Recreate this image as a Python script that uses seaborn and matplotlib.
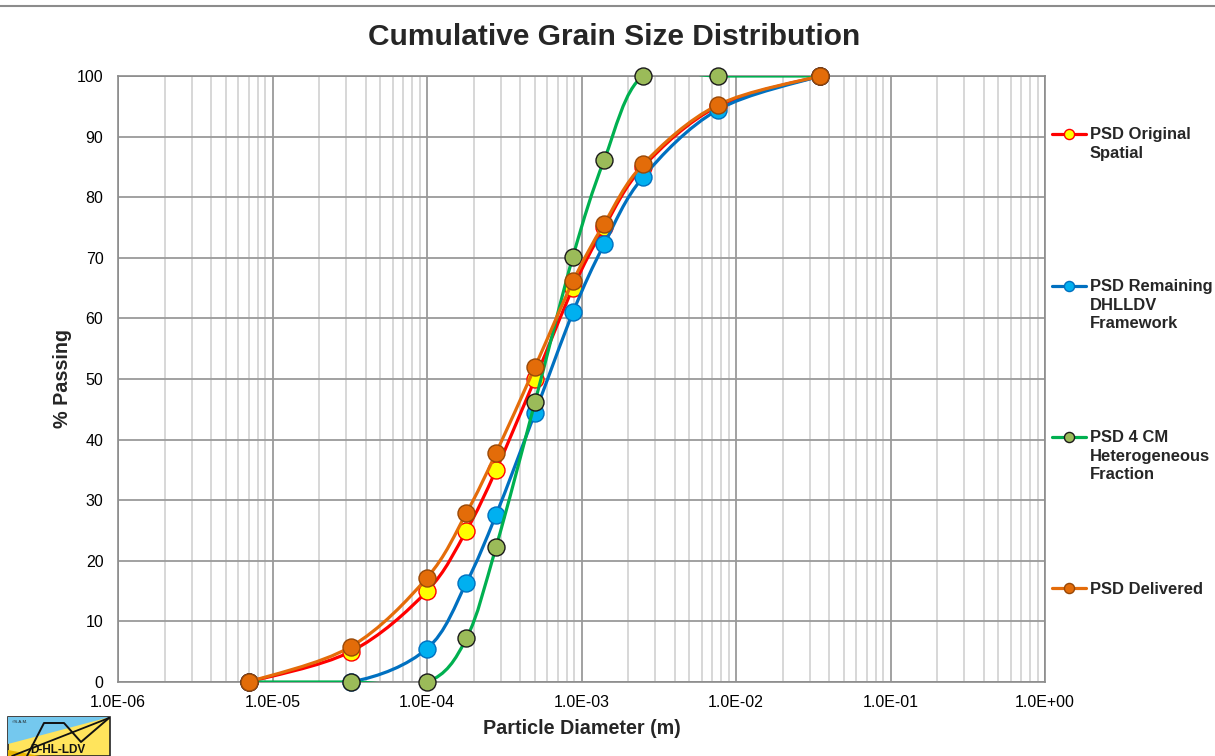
import numpy as np
import pandas as pd
import matplotlib
matplotlib.use("Agg")
import matplotlib.pyplot as plt
import seaborn as sns
from matplotlib.path import Path
from matplotlib.patches import PathPatch, Polygon
from matplotlib.lines import Line2D
from matplotlib.ticker import FixedLocator, FuncFormatter, NullFormatter

# ---------------- data ----------------
diameter_m = [7.0e-6, 3.2e-5, 1.0e-4, 1.8e-4, 2.8e-4, 5.0e-4, 8.8e-4, 1.4e-3, 2.5e-3, 7.6e-3, 3.5e-2]
psd_original = [0, 5, 15, 25, 35, 50, 65, 75, 85, 95, 100]
psd_remaining = [0, 0, 5.5, 16.4, 27.6, 44.4, 61.0, 72.2, 83.3, 94.4, 100]
psd_heterogeneous = [0, 0, 0, 7.2, 22.3, 46.2, 70.2, 86.1, 100, 100, 100]
psd_delivered = [0, 5.8, 17.2, 27.9, 37.8, 52.0, 66.1, 75.6, 85.4, 95.2, 100]
series_labels = ["PSD Original\nSpatial",
                 "PSD Remaining\nDHLLDV\nFramework",
                 "PSD 4 CM\nHeterogeneous\nFraction",
                 "PSD Delivered"]
x_tick_values = [1e-6, 1e-5, 1e-4, 1e-3, 1e-2, 1e-1, 1e0]
y_tick_values = list(range(0, 101, 10))
title_text = "Cumulative Grain Size Distribution"
x_label = "Particle Diameter (m)"
y_label = "% Passing"

# ---------------- styles ----------------
styles = [
    dict(line="#FF0000", face="#FFFF00", edge="#FF0000"),
    dict(line="#0070C0", face="#00B0F0", edge="#0070C0"),
    dict(line="#00B050", face="#9BBB59", edge="#1a1a1a"),
    dict(line="#E46C0A", face="#E36C09", edge="#984807"),
]

sns.set_style("white")
plt.rcParams["font.family"] = ["Liberation Sans", "DejaVu Sans"]

W, H = 1215, 756
fig = plt.figure(figsize=(W / 100, H / 100), dpi=100)
def fx(x): return x / W
def fy(y): return 1 - y / H

ax = fig.add_axes([fx(118), fy(682), fx(1045) - fx(118), fy(76) - fy(682)])
ax.set_xscale("log")
ax.set_xlim(1e-6, 1e0)
ax.set_ylim(0, 100)

frames = []
for lab, vals in zip(series_labels, [psd_original, psd_remaining, psd_heterogeneous, psd_delivered]):
    frames.append(pd.DataFrame({"diameter": diameter_m, "passing": vals, "series": lab}))
df = pd.concat(frames, ignore_index=True)


def smooth_path(xs, ys):
    pts = np.column_stack([np.log10(np.asarray(xs, float)), np.asarray(ys, float)])
    n = len(pts)
    verts = [pts[0]]
    codes = [Path.MOVETO]
    for i in range(n - 1):
        p0 = pts[max(i - 1, 0)]
        p1 = pts[i]
        p2 = pts[i + 1]
        p3 = pts[min(i + 2, n - 1)]
        c1 = p1 + (p2 - p0) / 6.0
        c2 = p2 - (p3 - p1) / 6.0
        verts += [c1, c2, p2]
        codes += [Path.CURVE4] * 3
    verts = np.array(verts)
    verts[:, 0] = 10 ** verts[:, 0]
    return Path(verts, codes)


for k, (lab, st) in enumerate(zip(series_labels, styles)):
    sub = df[df["series"] == lab]
    patch = PathPatch(smooth_path(sub["diameter"], sub["passing"]), fill=False,
                      edgecolor=st["line"], lw=2.3, zorder=3 + 2 * k,
                      capstyle="round", joinstyle="round")
    ax.add_patch(patch)
    sns.scatterplot(data=sub, x="diameter", y="passing", ax=ax, color=st["face"],
                    edgecolor=st["edge"], linewidth=1.0, s=150, zorder=4 + 2 * k,
                    clip_on=False, legend=False)

# ---------------- axes styling ----------------
ax.set_axisbelow(True)
ax.xaxis.set_major_locator(FixedLocator(x_tick_values))
minor = [m * d for d in x_tick_values[:-1] for m in range(2, 10)]
ax.xaxis.set_minor_locator(FixedLocator(minor))
ax.xaxis.set_minor_formatter(NullFormatter())
ax.xaxis.set_major_formatter(FuncFormatter(lambda v, p: f"{v:.1E}"))
ax.yaxis.set_major_locator(FixedLocator(y_tick_values))
ax.yaxis.set_major_formatter(FuncFormatter(lambda v, p: f"{v:.0f}"))

ax.grid(which="major", axis="both", color="#9a9a9a", lw=1.3)
ax.grid(which="minor", axis="x", color="#cdcdcd", lw=1.1)
for s in ax.spines.values():
    s.set_color("#8c8c8c")
    s.set_linewidth(1.2)

ax.tick_params(axis="x", which="both", direction="out", length=3, color="#8c8c8c",
               width=1, pad=6.5, labelsize=11.5, labelcolor="black")
ax.tick_params(axis="y", which="both", length=0, pad=10.5, labelsize=11.5, labelcolor="black")

ax.set_xlabel("")
ax.set_ylabel("")
fig.text(fx(582), fy(728), x_label, ha="center", va="center", fontsize=14.2, fontweight="bold")
fig.text(fx(62), fy(379), y_label, ha="center", va="center", fontsize=14.2,
         fontweight="bold", rotation=90)
fig.text(fx(614), fy(37), title_text, ha="center", va="center", fontsize=21.5, fontweight="bold")

# ---------------- legend (one block per series) ----------------
first_line_y = [134, 286, 437, 588]
for lab, st, yc in zip(series_labels, styles, first_line_y):
    lines = lab.split("\n")
    handles = [Line2D([], [], color=st["line"], lw=2.3, marker="o", markersize=7.3,
                      markerfacecolor=st["face"], markeredgecolor=st["edge"], markeredgewidth=1.0)]
    handles += [Line2D([], [], linestyle="none") for _ in lines[1:]]
    leg = fig.legend(handles, lines, loc="upper left",
                     bbox_to_anchor=(fx(1052), fy(yc - 6.5)), frameon=False,
                     borderpad=0, borderaxespad=0, handlelength=2.05, handletextpad=0.25,
                     labelspacing=0.2, prop=dict(weight="bold", size=11.9))

# ---------------- figure decorations ----------------
fig.add_artist(Line2D([0, 1], [fy(6), fy(6)], color="#8c8c8c", lw=1.5, transform=fig.transFigure))

# logo (bottom-left)
def P(pts):
    return [(fx(a), fy(b)) for a, b in pts]
fig.add_artist(Polygon(P([(8, 717), (110, 717), (110, 756), (8, 756)]), closed=True,
                       facecolor="#FFE45C", edgecolor="#222222", lw=1.2, transform=fig.transFigure))
fig.add_artist(Polygon(P([(8, 717), (110, 717), (8, 744)]), closed=True,
                       facecolor="#74C8EE", edgecolor="none", transform=fig.transFigure))
fig.add_artist(Polygon(P([(8, 756), (8, 750), (40, 756)]), closed=True,
                       facecolor="#E8B400", edgecolor="none", transform=fig.transFigure))
fig.add_artist(Line2D([fx(12), fx(109)], [fy(756), fy(718)], color="#111111", lw=1.3,
                      transform=fig.transFigure))
fig.add_artist(Line2D([fx(27), fx(44), fx(64), fx(81), fx(109)],
                      [fy(756), fy(723), fy(723), fy(742), fy(718)], color="#111111", lw=1.4,
                      transform=fig.transFigure))
fig.text(fx(12), fy(722), "©S.A.M.", fontsize=3.2, color="#222222", va="center", ha="left")
fig.text(fx(58), fy(750), "D-HL-LDV", fontsize=8.5, fontweight="bold", color="#111111",
         va="center", ha="center")

fig.savefig("out.png", dpi=100)
